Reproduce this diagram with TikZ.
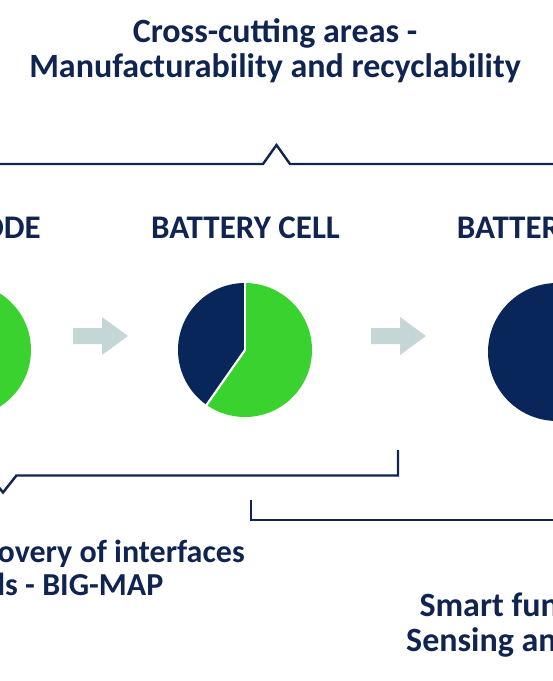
\documentclass[tikz,border=0pt]{standalone}
\usepackage{fontspec}
\setmainfont{Carlito}
\usetikzlibrary{positioning}
\definecolor{navytext}{RGB}{16,36,82}
\definecolor{navypie}{RGB}{8,38,90}
\definecolor{greenpie}{RGB}{58,210,47}
\definecolor{arrowgrey}{RGB}{196,214,213}
\tikzset{
  label/.style={inner sep=0pt,text=navytext,font=\bfseries\fontsize{34}{40}\selectfont},
  smalllabel/.style={label,font=\bfseries\fontsize{32}{38}\selectfont},
  heading/.style={inner sep=0pt,text=navytext,font=\bfseries\fontsize{33}{39}\selectfont},
  bracket/.style={draw=navytext,line width=2.4pt,miter limit=20},
  blockarrow/.style={fill=arrowgrey,draw=none},
  gap/.style={draw=white,line width=2.2pt}
}
\begin{document}
\begin{tikzpicture}[x=1pt,y=-1pt]
\useasboundingbox (0,0) rectangle (553,681);
\node[label,anchor=base] (cross) at (275,42) {Cross-cutting areas -};
\node[label,anchor=base] (manuf) at (275,77) {Manufacturability and recyclability};
\draw[bracket] (-10,164)--(263,164)--(276.5,145)--(290,164)--(563,164);

\node[heading,anchor=base east] (anode) at (41,238.5) {ODE};
\node[heading,anchor=base] (cell) at (245.5,238.5) {BATTERY CELL};
\node[heading,anchor=base west] (system) at (456.7,238.5) {BATTER};

\coordinate (anodepie) at (-36,350);
\coordinate (cellpie) at (245,350);
\coordinate (systempie) at (557,352);
\fill[greenpie] (anodepie) circle[radius=67];
\fill[navypie] (cellpie)--++(-90:67) arc[start angle=-90,end angle=-235,radius=67]--cycle;
\fill[greenpie] (cellpie)--++(-235:67) arc[start angle=-235,end angle=-450,radius=67]--cycle;
\draw[gap] (cellpie)--++(-90:68);
\draw[gap] (cellpie)--++(-235:68);
\fill[navypie] (systempie) circle[radius=69];

\foreach \ax in {73,371}
  \fill[blockarrow] (\ax,328)--++(29,0)--++(0,-11)--++(26,19)--++(-26,19)--++(0,-11)--++(-29,0)--cycle;

\draw[bracket] (-20,475.5)--(-10.4,475.5)--(3,492.5)--(16.4,475.5)--(398,475.5)--(398,450);
\draw[bracket] (251,499.5)--(251,520)--(563,520);

\node[smalllabel,anchor=base east] (discovery) at (245,562) {overy of interfaces};
\node[smalllabel,anchor=base east] (bigmap) at (163.5,595) {ls - BIG-MAP};
\node[label,anchor=base west] (smart) at (419.3,616) {Smart fun};
\node[label,anchor=base west] (sensing) at (406,651) {Sensing an};
\end{tikzpicture}
\end{document}
